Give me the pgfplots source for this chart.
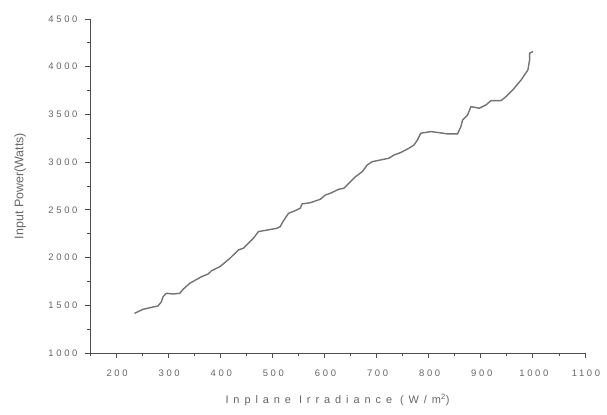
\documentclass[border=0pt]{standalone}
\usepackage{fontspec}
\setmainfont{Liberation Sans}
\newfontfamily\tickfont{Liberation Sans}[LetterSpace=28]
\newfontfamily\xlabfont{Liberation Sans}[LetterSpace=45]
\usepackage{pgfplots}
\pgfplotsset{compat=1.18}
\definecolor{axgray}{gray}{0.3}
\definecolor{txtgray}{gray}{0.4}
\definecolor{linegray}{gray}{0.45}
\begin{document}
\begin{tikzpicture}
\begin{axis}[
  scale only axis,
  width=495bp, height=334bp,
  xmin=150, xmax=1100, ymin=1000, ymax=4500,
  axis lines=left,
  axis line style={axgray, line width=0.9pt, -},
  xtick={200,300,...,1100},
  ytick={1000,1500,...,4500},
  minor xtick={150,250,...,1050},
  minor ytick={1250,1750,...,4250},
  tick align=outside,
  major tick length=5bp,
  minor tick length=3bp,
  tick style={axgray, line width=0.8pt},
  /pgf/number format/assume math mode=true,
  /pgf/number format/1000 sep={},
  ticklabel style={font=\tickfont\fontsize{9.5}{11}\selectfont, text=txtgray},
  xticklabel style={yshift=-8bp, xshift=1bp},
  yticklabel style={xshift=-4bp},
  xlabel={\xlabfont\fontsize{11}{13}\selectfont Inplane Irradiance (W/m\textsuperscript{2})},
  ylabel={\fontsize{12.5}{14}\selectfont Input Power(Watts)},
  label style={text=txtgray},
  xlabel style={at={(axis description cs:0.5,-0.14)}, anchor=center},
  ylabel style={at={(axis description cs:-0.141,0.5)}, anchor=center},
  clip=false,
]
\addplot[linegray, line width=1.4pt, line join=round] coordinates {
(235.6,1416) (251.6,1458) (280.5,1493) (287.1,1538) (290.2,1590)
(296.7,1626) (309.4,1618) (322.4,1626) (328.7,1668) (341.6,1731)
(364.2,1800) (376.9,1828) (383.4,1863) (399.4,1905) (418.7,1993)
(434.7,2080) (444.3,2098) (463.6,2202) (473.2,2272) (508.7,2307)
(515,2324) (520.2,2376) (531,2464) (543.9,2492) (553.6,2517)
(556.8,2562) (572.8,2575) (592.1,2611) (601.7,2656) (611.4,2674)
(627.4,2716) (637,2726) (659.6,2848) (672.5,2900) (682.1,2971)
(691.7,3005) (707.7,3023) (723.7,3041) (733.3,3075) (746.2,3100)
(762.2,3146) (771.9,3180) (778.4,3233) (784.8,3303) (804,3320)
(820,3309) (836.2,3296) (855.5,3296) (861.8,3372) (865.1,3442)
(874.7,3495) (881.1,3582) (897.1,3565) (910,3600) (919.7,3645)
(938.9,3645) (948.5,3687) (961.4,3757) (977.5,3862) (990.4,3966)
(993.6,4071) (993.6,4142) (1000.2,4158)
};
\coordinate (ll) at (rel axis cs:0,0);
\coordinate (ur) at (rel axis cs:1,1);
\end{axis}
\pgfresetboundingbox
\path ([shift={(-90bp,-61bp)}]ll) rectangle ([shift={(22bp,19bp)}]ur);
\end{tikzpicture}
\end{document}
